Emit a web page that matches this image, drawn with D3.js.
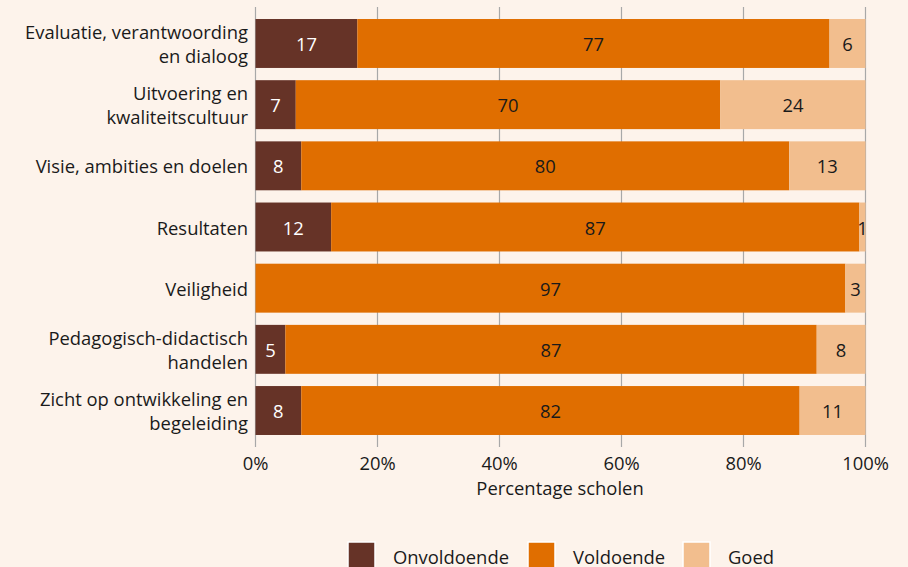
<!DOCTYPE html>
<html><head><meta charset="utf-8">
<script src="https://cdn.jsdelivr.net/npm/d3@7"></script>
<style>
html,body{margin:0;padding:0;background:#fdf3eb;}
svg{display:block;font-family:"Open Sans",sans-serif;}
</style></head><body>
<svg id="c" width="908" height="567"></svg>
<script>
const categories = [
  ["Evaluatie, verantwoording","en dialoog"],
  ["Uitvoering en","kwaliteitscultuur"],
  ["Visie, ambities en doelen"],
  ["Resultaten"],
  ["Veiligheid"],
  ["Pedagogisch-didactisch","handelen"],
  ["Zicht op ontwikkeling en","begeleiding"]
];
const onvoldoende = [16.7, 6.6, 7.5, 12.4, 0, 4.9, 7.5];
const voldoende   = [77.4, 69.6, 80.0, 86.6, 96.7, 87.1, 81.7];
const goed        = [5.9, 23.8, 12.5, 1.0, 3.3, 8.0, 10.8];
const seriesNames = ["Onvoldoende","Voldoende","Goed"];
const xTicks = [0,20,40,60,80,100];
const colors = ["#663327","#e06e00","#f2be8e"];
const textColors = ["#ffffff","#1a1a1a","#1a1a1a"];
const FS = 18.4;

const svg = d3.select("#c");
const x = d3.scaleLinear().domain([0,100]).range([255.5,865.5]);
const y = d3.scaleBand().domain(d3.range(categories.length)).range([12.9,441.1]).paddingInner(0.2).paddingOuter(0.1);

// gridlines
svg.append("g").selectAll("line").data(xTicks).join("line")
  .attr("x1",d=>x(d)).attr("x2",d=>x(d)).attr("y1",7).attr("y2",447)
  .attr("stroke","#a8a8a8").attr("stroke-width",1.2);

const table = categories.map((c,i)=>({i, vals:[onvoldoende[i],voldoende[i],goed[i]]}));
const segs = [];
table.forEach(r=>{
  let acc=0;
  r.vals.forEach((v,s)=>{ segs.push({i:r.i,s,v,x0:acc,x1:acc+v}); acc+=v; });
});
const g = svg.append("g");
g.selectAll("rect").data(segs.filter(d=>d.v>0)).join("rect")
  .attr("x",d=>x(d.x0)).attr("width",d=>x(d.x1)-x(d.x0))
  .attr("y",d=>y(d.i)).attr("height",y.bandwidth())
  .attr("fill",d=>colors[d.s]);
g.selectAll("text").data(segs.filter(d=>d.v>0)).join("text")
  .attr("x",d=>(x(d.x0)+x(d.x1))/2).attr("y",d=>y(d.i)+y.bandwidth()/2)
  .attr("text-anchor","middle").attr("dominant-baseline","central")
  .attr("font-size",FS).attr("fill",d=>textColors[d.s])
  .text(d=>Math.round(d.v));

// category labels
const lab = svg.append("g");
categories.forEach((lines,i)=>{
  const cy = y(i)+y.bandwidth()/2;
  const lh = 24;
  lines.forEach((t,k)=>{
    lab.append("text").attr("x",248).attr("y",cy + (k-(lines.length-1)/2)*lh)
      .attr("text-anchor","end").attr("dominant-baseline","central")
      .attr("font-size",FS).attr("fill","#1a1a1a").text(t);
  });
});

// x tick labels
svg.append("g").selectAll("text").data(xTicks).join("text")
  .attr("x",d=>x(d)).attr("y",462).attr("text-anchor","middle").attr("dominant-baseline","central")
  .attr("font-size",FS).attr("fill","#1a1a1a").text(d=>d+"%");
svg.append("text").attr("x",560).attr("y",487).attr("text-anchor","middle").attr("dominant-baseline","central")
  .attr("font-size",FS).attr("fill","#1a1a1a").text("Percentage scholen");

// legend
const legX = [348,528,683];
const leg = svg.append("g");
seriesNames.forEach((n,s)=>{
  leg.append("rect").attr("x",legX[s]).attr("y",542).attr("width",27).attr("height",27)
    .attr("fill",colors[s]).attr("stroke","#ffffff").attr("stroke-width",1.5);
  leg.append("text").attr("x",legX[s]+45).attr("y",556).attr("dominant-baseline","central")
    .attr("font-size",FS).attr("fill","#1a1a1a").text(n);
});
</script></body></html>
